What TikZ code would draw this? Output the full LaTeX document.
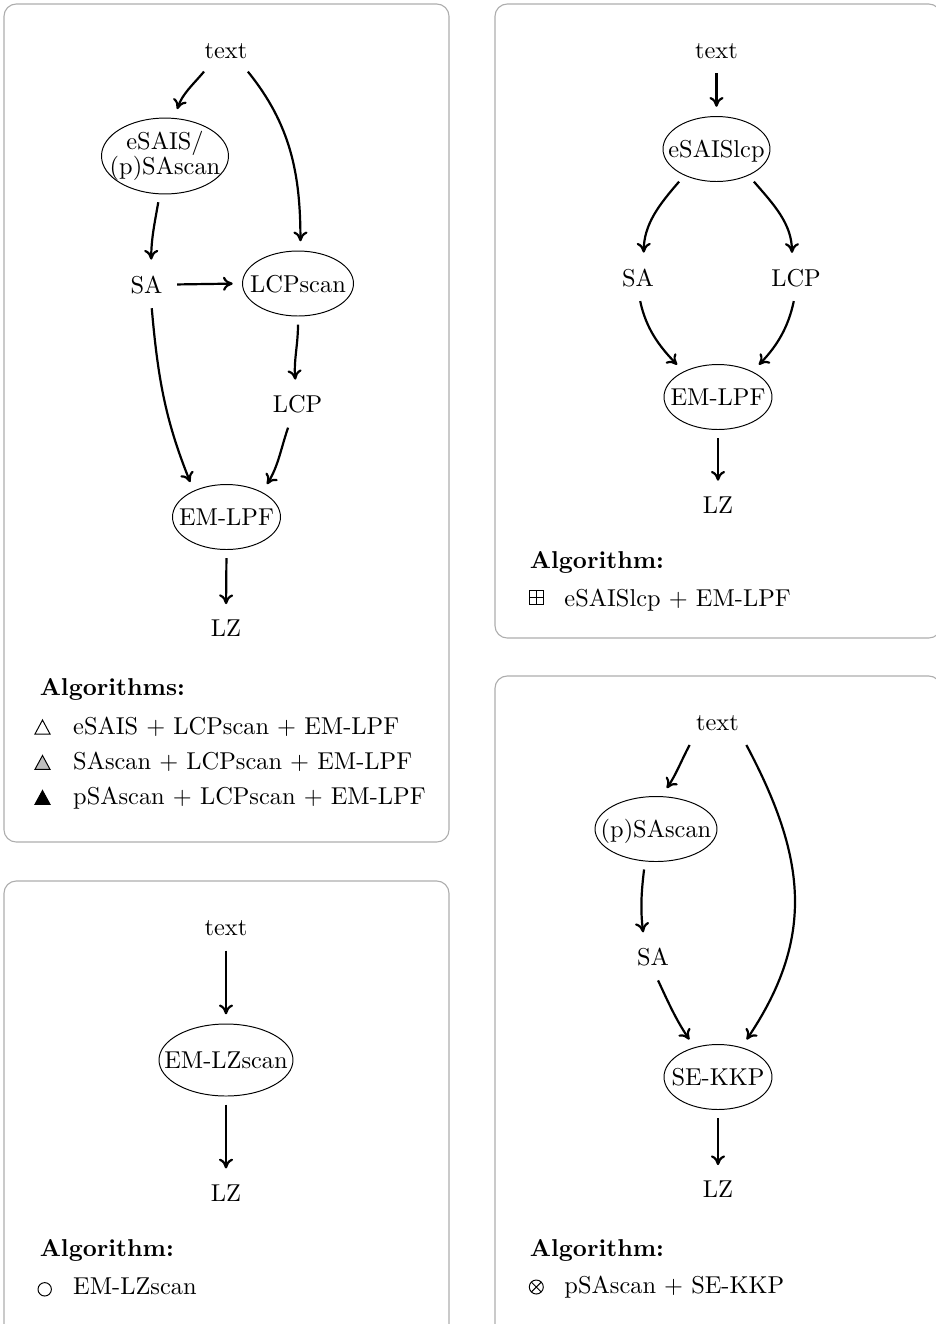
\documentclass[tikz,border=0pt]{standalone}
\usetikzlibrary{shapes.geometric,arrows.meta}
\newcommand{\zw}[1]{\makebox[0pt]{#1}}
\begin{document}
\begin{tikzpicture}[x=0.41pt,y=0.41pt,
  panel/.style={draw=black!32, line width=0.45pt, rounded corners=5pt},
  oval/.style 2 args={ellipse, draw, line width=0.4pt, inner sep=0pt, outer sep=1pt,
     minimum width=#1*0.41pt, minimum height=#2*0.41pt},
  onel/.style={text height=7.5pt, text depth=0.5pt},
  lbl/.style={inner sep=3.33pt, anchor=base},
  arr/.style={line width=0.9pt, -{To[length=4pt,width=5.8pt]}, shorten <=2.5pt, shorten >=3pt},
  leg/.style={inner sep=0pt, anchor=base west},
  mk/.style={line width=0.4pt}
]
\useasboundingbox (0,0) rectangle (936,-1324);
\clip (0,0) rectangle (936,-1324);

% framed panels
\draw[panel] (4,-4) rectangle (449,-842);
\draw[panel] (495,-4) rectangle (941,-638);
\draw[panel] (4,-881) rectangle (449,-1345);
\draw[panel] (495,-676) rectangle (941,-1345);

% ---- pipeline 1: eSAIS/(p)SAscan + LCPscan + EM-LPF
\node[lbl] (t1) at (226,-58) {text};
\node[oval={127}{69}] (e1) at (165,-156)
  {\zw{\begin{tabular}{@{}c@{}}eSAIS/\\[-2pt](p)SAscan\end{tabular}}};
\node[lbl] (sa1) at (146.5,-293) {SA};
\node[oval={111}{65},onel] (lcps) at (298,-283.5) {\zw{LCPscan}};
\node[lbl] (lcp1) at (297.5,-412.7) {LCP};
\node[oval={108}{65},onel] (em1) at (226.5,-517) {\zw{EM-LPF}};
\node[lbl] (lz1) at (226,-636.7) {LZ};

\draw[arr] (t1.-138) to[out=-130,in=72] (e1.76);
\draw[arr] (t1.-42) to[out=-51,in=90] (lcps.86);
\draw[arr] (e1.-98) to[out=-100,in=90] (sa1.75);
\draw[arr] (sa1.east) -- (lcps.west);
\draw[arr] (lcps.south) to[out=-90,in=95] (lcp1.95);
\draw[arr] (sa1.-75) to[out=-85,in=112] (em1.140);
\draw[arr] (lcp1.-113) to[out=-109,in=58] (em1.36);
\draw[arr] (em1.south) -- (lz1.north);

\node[leg] (h1) at (39.3,-695) {\textbf{Algorithms:}};
\node[leg] (a1) at (72.7,-734) {eSAIS $+$ LCPscan $+$ EM-LPF};
\node[leg] (a2) at (72.7,-769.3) {SAscan $+$ LCPscan $+$ EM-LPF};
\node[leg] (a3) at (72.7,-804.3) {pSAscan $+$ LCPscan $+$ EM-LPF};
\draw[mk] (35,-734) -- (50,-734) -- (42.5,-720) -- cycle;
\draw[mk, fill=black!25] (35,-769.3) -- (50,-769.3) -- (42.5,-755.5) -- cycle;
\draw[mk, fill=black] (35,-804.3) -- (50,-804.3) -- (42.5,-790.5) -- cycle;

% ---- pipeline 2: eSAISlcp + EM-LPF
\node[lbl] (t2) at (716.5,-58.3) {text};
\node[oval={107}{65},onel] (e2) at (716.5,-149) {\zw{eSAISlcp}};
\node[lbl] (sa2) at (638,-286) {SA};
\node[lbl] (lcp2) at (796,-286) {LCP};
\node[oval={108}{65},onel] (em2) at (718,-397) {\zw{EM-LPF}};
\node[lbl] (lz2) at (718,-513.3) {LZ};

\draw[arr] (t2.south) -- (e2.north);
\draw[arr] (e2.-140) to[out=-131,in=90] (sa2.72);
\draw[arr] (e2.-40) to[out=-49,in=90] (lcp2.103);
\draw[arr] (sa2.-87) to[out=-78,in=134] (em2.143);
\draw[arr] (lcp2.-93) to[out=-102,in=46] (em2.37);
\draw[arr] (em2.south) -- (lz2.north);

\node[leg] (h2) at (529.5,-568) {\textbf{Algorithm:}};
\node[leg] (b1) at (564,-606.7) {eSAISlcp $+$ EM-LPF};
\draw[mk] (529.5,-590) rectangle (543.5,-604);
\draw[mk] (536.5,-590) -- (536.5,-604) (529.5,-597) -- (543.5,-597);

% ---- pipeline 3: EM-LZscan
\node[lbl] (t3) at (226,-935.7) {text};
\node[oval={134}{72},onel] (emz) at (226,-1060) {\zw{EM-LZscan}};
\node[lbl] (lz3) at (226,-1201) {LZ};
\draw[arr] (t3.south) -- (emz.north);
\draw[arr] (emz.south) -- (lz3.north);

\node[leg] (h3) at (39.3,-1256.7) {\textbf{Algorithm:}};
\node[leg] (c1) at (72.7,-1294.3) {EM-LZscan};
\draw[mk] (44.7,-1289.3) circle (6.7);

% ---- pipeline 4: pSAscan + SE-KKP
\node[lbl] (t4) at (717.5,-730.7) {text};
\node[oval={122}{65},onel] (ps) at (656,-829) {\zw{(p)SAscan}};
\node[lbl] (sa4) at (653,-965.7) {SA};
\node[oval={108}{65},onel] (sek) at (718,-1077) {\zw{SE-KKP}};
\node[lbl] (lz4) at (718,-1197.7) {LZ};

\draw[arr] (t4.-147) to[out=-118,in=56] (ps.79);
\draw[arr] (t4.-32) to[out=-62,in=56,looseness=1.1] (sek.52);
\draw[arr] (ps.-108) to[out=-97,in=97] (sa4.117);
\draw[arr] (sa4.-82) to[out=-65,in=124] (sek.128);
\draw[arr] (sek.south) -- (lz4.north);

\node[leg] (h4) at (529.5,-1256.7) {\textbf{Algorithm:}};
\node[leg] (d1) at (564,-1293.3) {pSAscan $+$ SE-KKP};
\draw[mk] (536.3,-1287) circle (7);
\draw[mk] (536.3,-1287) +(-4.95,-4.95) -- +(4.95,4.95) +(-4.95,4.95) -- +(4.95,-4.95);
\end{tikzpicture}
\end{document}
